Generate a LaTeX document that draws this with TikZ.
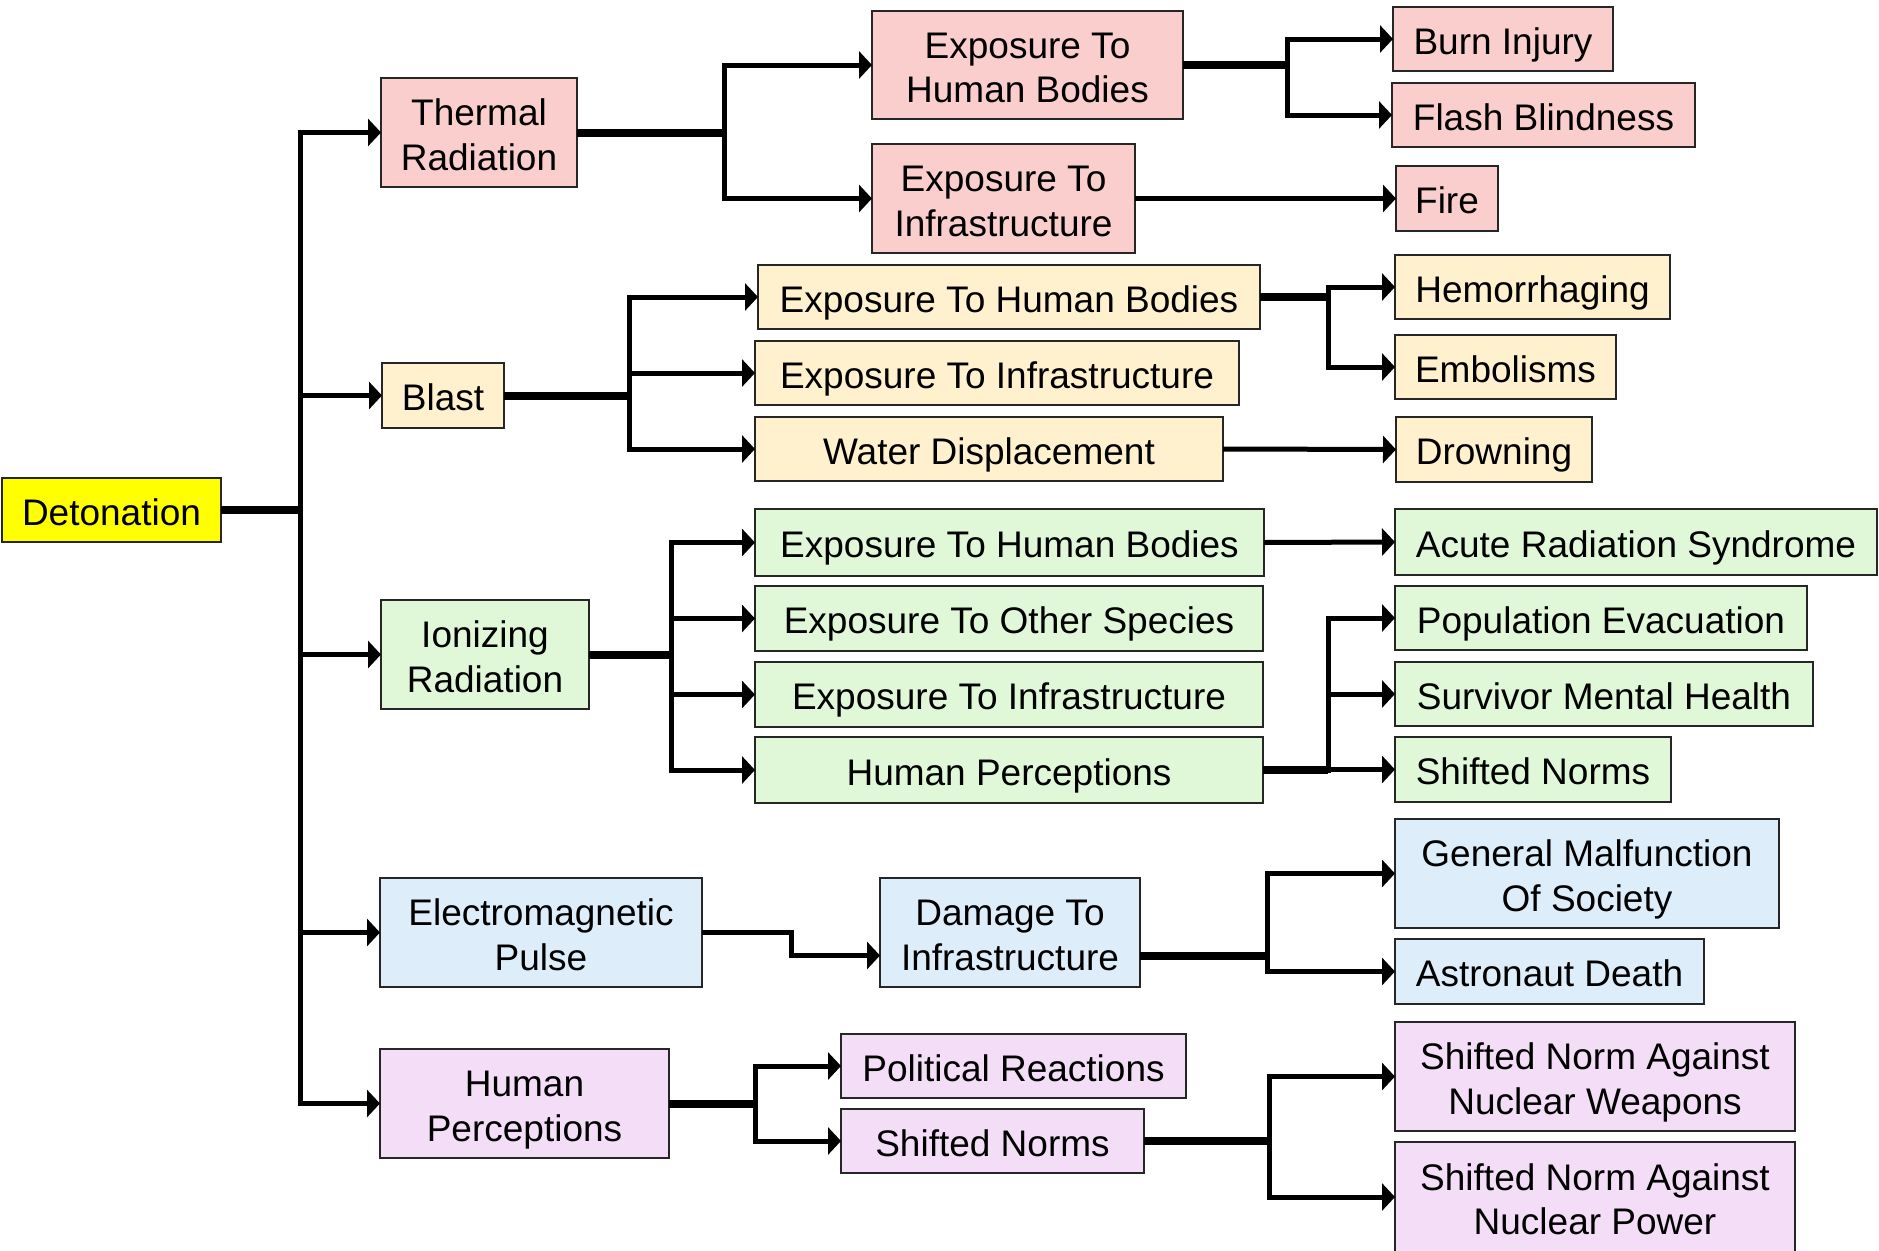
\documentclass[tikz,border=0pt]{standalone}
\usepackage{fontspec}
\setmainfont{Liberation Sans}
\usetikzlibrary{arrows.meta}
\definecolor{pinkc}{HTML}{F9CECC}
\definecolor{yelc}{HTML}{FFF1CE}
\definecolor{grnc}{HTML}{E0F8D8}
\definecolor{bluc}{HTML}{DDEEFA}
\definecolor{purc}{HTML}{F3DDF7}
\definecolor{detc}{HTML}{FFFF00}
\newcommand\fs{\fontsize{37}{44.5}\selectfont}
\tikzset{
  box/.style={draw=black!85, line width=2pt, inner sep=0pt, outer sep=0pt, align=center, font=\fs, text height=30pt, text depth=0pt},
  two/.style={text height=75pt, text depth=0pt},
  conn/.style={line width=5pt, -{Triangle[length=13pt,width=27pt]}},
  trunk/.style={line width=8pt},
}
\begin{document}
\begin{tikzpicture}[x=1pt,y=-1pt]
\useasboundingbox[fill=white] (0,0) rectangle (1879,1250);
% level 0
\node[box, fill=detc, minimum width=219pt, minimum height=64pt] (det) at (111.5,510) {Detonation};
% level 1
\node[box, two, fill=pinkc, minimum width=196pt, minimum height=109pt] (thermal) at (479,132.5) {Thermal\\Radiation};
\node[box, fill=yelc, minimum width=122pt, minimum height=65pt] (blast) at (443,395.5) {Blast};
\node[box, two, fill=grnc, minimum width=208pt, minimum height=109pt] (ion) at (485,654.5) {Ionizing\\Radiation};
\node[box, two, fill=bluc, minimum width=322pt, minimum height=109pt] (emp) at (541,932.5) {Electromagnetic\\Pulse};
\node[box, two, fill=purc, minimum width=289pt, minimum height=109pt] (hp) at (524.5,1103.5) {Human\\Perceptions};
% level 2
\node[box, two, fill=pinkc, minimum width=311pt, minimum height=108pt] (tehb) at (1027.5,65) {Exposure To\\Human Bodies};
\node[box, two, fill=pinkc, minimum width=263pt, minimum height=109pt] (tei) at (1003.5,198.5) {Exposure To\\Infrastructure};
\node[box, fill=yelc, minimum width=502pt, minimum height=64pt] (behb) at (1009,297) {Exposure To Human Bodies};
\node[box, fill=yelc, minimum width=484pt, minimum height=64pt] (bei) at (997,373) {Exposure To Infrastructure};
\node[box, fill=yelc, minimum width=468pt, minimum height=64pt] (bwd) at (989,449) {Water Displacement};
\node[box, fill=grnc, minimum width=509pt, minimum height=67pt] (iehb) at (1009.5,542.5) {Exposure To Human Bodies};
\node[box, fill=grnc, minimum width=508pt, minimum height=65pt] (ieos) at (1009,618.5) {Exposure To Other Species};
\node[box, fill=grnc, minimum width=508pt, minimum height=65pt] (iei) at (1009,694.5) {Exposure To Infrastructure};
\node[box, fill=grnc, minimum width=508pt, minimum height=66pt] (ihp) at (1009,770) {Human Perceptions};
\node[box, two, fill=bluc, minimum width=260pt, minimum height=109pt] (dti) at (1010,932.5) {Damage To\\Infrastructure};
\node[box, fill=purc, minimum width=345pt, minimum height=64pt] (pr) at (1013.5,1066) {Political Reactions};
\node[box, fill=purc, minimum width=303pt, minimum height=64pt] (snp) at (992.5,1141) {Shifted Norms};
% level 3
\node[box, fill=pinkc, minimum width=220pt, minimum height=64pt] (burn) at (1503,39) {Burn Injury};
\node[box, fill=pinkc, minimum width=303pt, minimum height=64pt] (flash) at (1543.5,115) {Flash Blindness};
\node[box, fill=pinkc, minimum width=102pt, minimum height=65pt] (fire) at (1447,198.5) {Fire};
\node[box, fill=yelc, minimum width=275pt, minimum height=64pt] (hem) at (1532.5,287) {Hemorrhaging};
\node[box, fill=yelc, minimum width=221pt, minimum height=64pt] (emb) at (1505.5,367) {Embolisms};
\node[box, fill=yelc, minimum width=196pt, minimum height=65pt] (drown) at (1494,449.5) {Drowning};
\node[box, fill=grnc, minimum width=482pt, minimum height=66pt] (ars) at (1636,542) {Acute Radiation Syndrome};
\node[box, fill=grnc, minimum width=412pt, minimum height=64pt] (pop) at (1601,618) {Population Evacuation};
\node[box, fill=grnc, minimum width=418pt, minimum height=64pt] (smh) at (1604,694) {Survivor Mental Health};
\node[box, fill=grnc, minimum width=276pt, minimum height=65pt] (sng) at (1533,769.5) {Shifted Norms};
\node[box, two, fill=bluc, minimum width=384pt, minimum height=109pt] (gm) at (1587,873.5) {General Malfunction\\Of Society};
\node[box, fill=bluc, minimum width=309pt, minimum height=65pt] (ad) at (1549.5,971.5) {Astronaut Death};
\node[box, two, fill=purc, minimum width=400pt, minimum height=109pt] (snw) at (1595,1076.5) {Shifted Norm Against\\Nuclear Weapons};
\node[box, two, fill=purc, minimum width=400pt, minimum height=110pt] (snpw) at (1595,1197) {Shifted Norm Against\\Nuclear Power};
% junctions
\coordinate (j0) at (300,0);
\coordinate (jT) at (724,0);
\coordinate (jTH) at (1287,0);
\coordinate (jB) at (629,0);
\coordinate (jBH) at (1328,0);
\coordinate (jI) at (671,0);
\coordinate (jIH) at (1328,0);
\coordinate (jE) at (791,0);
\coordinate (jD) at (1267,0);
\coordinate (jP) at (755,0);
\coordinate (jS) at (1269,0);
% trunks
\draw[trunk] (det.east) -- (det.east -| j0);
\draw[trunk] (thermal.east) -- (thermal.east -| jT);
\draw[trunk] (tehb.east) -- (tehb.east -| jTH);
\draw[trunk] (blast.east) -- (blast.east -| jB);
\draw[trunk] (behb.east) -- (behb.east -| jBH);
\draw[trunk] (ion.east) -- (ion.east -| jI);
\draw[trunk] (ihp.east) -- (ihp.east -| jIH);
\draw[trunk] ([yshift=-23pt]dti.east) -- ([yshift=-23pt]dti.east -| jD);
\draw[trunk] (hp.east) -- (hp.east -| jP);
\draw[trunk] (snp.east) -- (snp.east -| jS);
% connectors
\foreach \c in {thermal,blast,ion,emp,hp}
  \draw[conn] (det.east) -- (det.east -| j0) |- (\c.west);
\foreach \c in {tehb,tei}
  \draw[conn] (thermal.east) -- (thermal.east -| jT) |- (\c.west);
\foreach \c in {burn,flash}
  \draw[conn] (tehb.east) -- (tehb.east -| jTH) |- (\c.west);
\draw[conn] (tei.east) -- (fire.west);
\foreach \c in {behb,bei,bwd}
  \draw[conn] (blast.east) -- (blast.east -| jB) |- (\c.west);
\foreach \c in {hem,emb}
  \draw[conn] (behb.east) -- (behb.east -| jBH) |- (\c.west);
\draw[conn] (bwd.east) -- (drown.west);
\foreach \c in {iehb,ieos,iei,ihp}
  \draw[conn] (ion.east) -- (ion.east -| jI) |- (\c.west);
\draw[conn] (iehb.east) -- (ars.west);
\foreach \c in {pop,smh,sng}
  \draw[conn] (ihp.east) -- (ihp.east -| jIH) |- (\c.west);
\draw[conn] (emp.east) -- (emp.east -| jE) |- ([yshift=-23pt]dti.west);
\foreach \c in {gm,ad}
  \draw[conn] ([yshift=-23pt]dti.east) -- ([yshift=-23pt]dti.east -| jD) |- (\c.west);
\foreach \c in {pr,snp}
  \draw[conn] (hp.east) -- (hp.east -| jP) |- (\c.west);
\foreach \c in {snw,snpw}
  \draw[conn] (snp.east) -- (snp.east -| jS) |- (\c.west);
\end{tikzpicture}
\end{document}
